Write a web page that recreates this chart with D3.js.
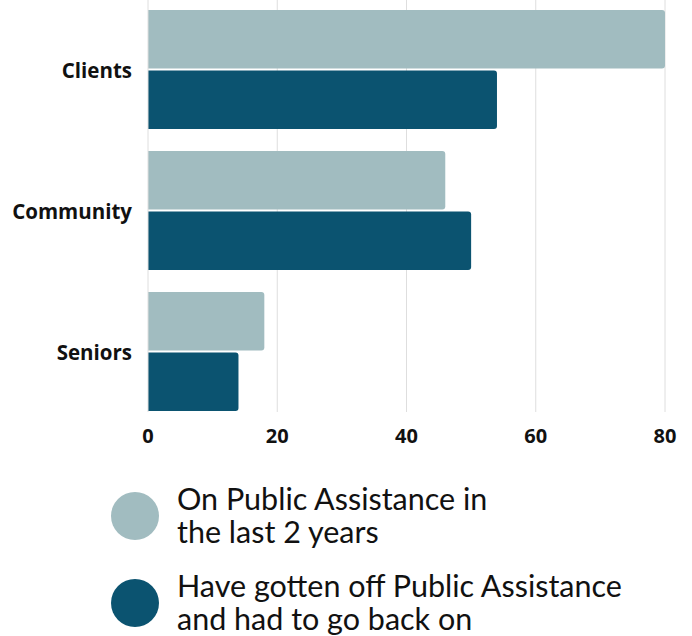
<!DOCTYPE html>
<html>
<head>
<meta charset="utf-8">
<script src="https://cdn.jsdelivr.net/npm/d3@7"></script>
<style>
  body { margin: 0; background: #fff; }
  svg { display: block; }
</style>
</head>
<body>
<div id="chart"></div>
<script>
var categories = ["Clients", "Community", "Seniors"];
var seriesNames = ["On Public Assistance in the last 2 years", "Have gotten off Public Assistance and had to go back on"];
var legendLines = [["On Public Assistance in", "the last 2 years"], ["Have gotten off Public Assistance", "and had to go back on"]];
var onAssistance = [80, 46, 18];
var backOn = [54, 50, 14];
var xTicks = [0, 20, 40, 60, 80];
var colors = ["#a1bcc0", "#0b5370"];

var width = 692, height = 636;
var plotLeft = 148, plotRight = 665, plotTop = -1, plotBottom = 422;

var svg = d3.select("#chart").append("svg")
	.attr("width", width).attr("height", height);

var x = d3.scaleLinear().domain([0, 80]).range([plotLeft, plotRight]);
var y = d3.scaleBand().domain(categories).range([plotTop, plotBottom])
	.paddingInner(0.156).paddingOuter(0.078);
var ySub = d3.scaleBand().domain([0, 1]).range([0, y.bandwidth()])
	.paddingInner(0.033);

// gridlines
svg.append("g").selectAll("line").data(xTicks.slice(1)).enter().append("line")
	.attr("x1", function(d) { return x(d); }).attr("x2", function(d) { return x(d); })
	.attr("y1", 0).attr("y2", 412)
	.attr("stroke", "#dedede").attr("stroke-width", 1);

// bars with rounded right end
function barPath(x0, y0, w, h, r) {
	r = Math.min(r, w);
	return "M" + x0 + "," + y0 + "H" + (x0 + w - r)
		+ "Q" + (x0 + w) + "," + y0 + " " + (x0 + w) + "," + (y0 + r)
		+ "V" + (y0 + h - r)
		+ "Q" + (x0 + w) + "," + (y0 + h) + " " + (x0 + w - r) + "," + (y0 + h)
		+ "H" + x0 + "Z";
}

var series = [onAssistance, backOn];
series.forEach(function(vals, s) {
	svg.append("g").selectAll("path").data(categories).enter().append("path")
		.attr("d", function(c, i) {
			return barPath(x(0), y(c) + ySub(s), x(vals[i]) - x(0), ySub.bandwidth(), 3);
		})
		.attr("fill", colors[s]);
});

// y axis line
svg.append("line").attr("x1", x(0)).attr("x2", x(0)).attr("y1", 0).attr("y2", 412)
	.attr("stroke", "#dedede");

// category labels
svg.append("g").selectAll("text").data(categories).enter().append("text")
	.text(function(d) { return d; })
	.attr("x", 132)
	.attr("y", function(d) { return y(d) + y.bandwidth() / 2; })
	.attr("dy", "0.4em")
	.attr("text-anchor", "end")
	.attr("font-family", "'Open Sans', sans-serif")
	.attr("font-weight", "bold")
	.attr("font-size", "20.5px")
	.attr("fill", "#111");

// x tick labels
svg.append("g").selectAll("text").data(xTicks).enter().append("text")
	.text(function(d) { return d; })
	.attr("x", function(d) { return x(d); })
	.attr("y", 443)
	.attr("text-anchor", "middle")
	.attr("font-family", "'Open Sans', sans-serif")
	.attr("font-weight", "bold")
	.attr("font-size", "20px")
	.attr("fill", "#111");

// legend
var legendY = [516, 603];
var legend = svg.append("g").selectAll("g").data(seriesNames).enter().append("g")
	.attr("transform", function(d, i) { return "translate(0," + legendY[i] + ")"; });
legend.append("circle").attr("cx", 135).attr("cy", 0).attr("r", 24)
	.attr("fill", function(d, i) { return colors[i]; });
legend.append("text")
	.attr("font-family", "Lato, sans-serif")
	.attr("font-size", "30.5px")
	.attr("fill", "#111")
	.selectAll("tspan").data(function(d, i) { return legendLines[i]; }).enter().append("tspan")
	.attr("x", 177)
	.attr("y", function(d, j) { return -6 + j * 33; })
	.text(function(d) { return d; });
</script>
</body>
</html>
